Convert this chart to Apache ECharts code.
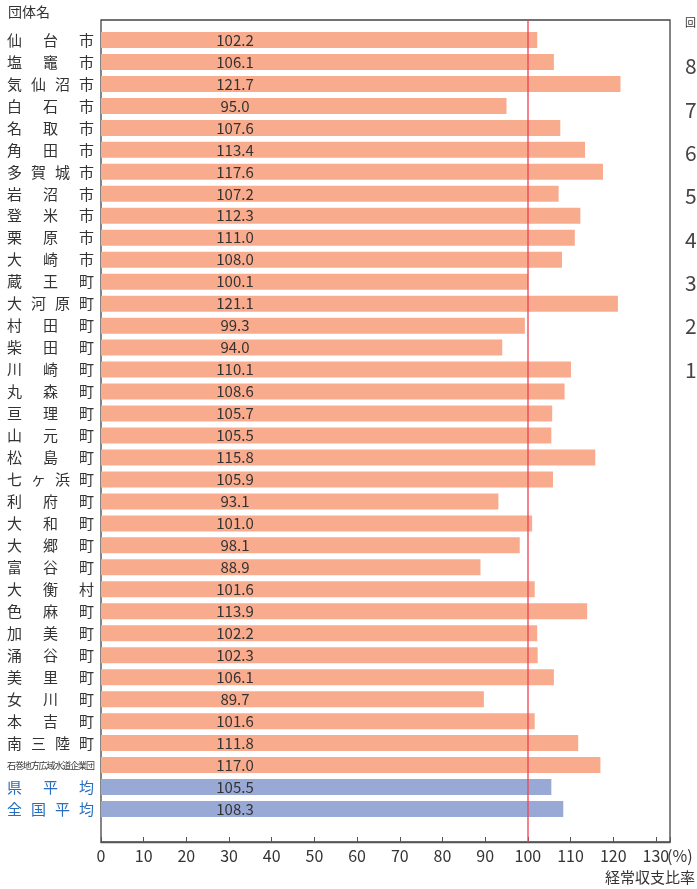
<!DOCTYPE html>
<html>
<head>
<meta charset="utf-8">
<script src="https://cdn.jsdelivr.net/npm/echarts@6/dist/echarts.min.js"></script>
<style>
html, body { margin: 0; padding: 0; background: #fff; }
#main { width: 697px; height: 889px; }
</style>
</head>
<body>
<div id="main"></div>
<script>
var names = ["仙台市", "塩竈市", "気仙沼市", "白石市", "名取市", "角田市", "多賀城市", "岩沼市", "登米市", "栗原市",
    "大崎市", "蔵王町", "大河原町", "村田町", "柴田町", "川崎町", "丸森町", "亘理町", "山元町", "松島町",
    "七ヶ浜町", "利府町", "大和町", "大郷町", "富谷町", "大衡村", "色麻町", "加美町", "涌谷町", "美里町",
    "女川町", "本吉町", "南三陸町", "石巻地方広域水道企業団", "県平均", "全国平均"];
var values = [102.2, 106.1, 121.7, 95.0, 107.6, 113.4, 117.6, 107.2, 112.3, 111.0,
    108.0, 100.1, 121.1, 99.3, 94.0, 110.1, 108.6, 105.7, 105.5, 115.8,
    105.9, 93.1, 101.0, 98.1, 88.9, 101.6, 113.9, 102.2, 102.3, 106.1,
    89.7, 101.6, 111.8, 117.0, 105.5, 108.3];
var averageCount = 2;   // last two rows are averages (blue)
var refLine = 100;
var sideLabels = ["8", "7", "6", "5", "4", "3", "2", "1"];

var FONT = "'Noto Sans CJK JP', 'Noto Sans', sans-serif";
var orange = "#f9ab8e";
var blue = "#99a9d6";

var myChart = echarts.init(document.getElementById("main"));

var barData = values.map(function (v, i) {
    var isAvg = i >= values.length - averageCount;
    return { value: v, itemStyle: { color: isAvg ? blue : orange } };
});
var catData = names.concat([""]);

// spread each name's characters across the label column
function nameFormatter(value, index) {
    if (!value) return "";
    var chars = value.split("");
    var isAvg = index >= names.length - averageCount;
    var key;
    if (chars.length <= 3) key = "s3";
    else if (chars.length == 4) key = "s4";
    else key = "sl";
    if (isAvg) key = "b" + key;
    return chars.map(function (c) { return "{" + key + "|" + c + "}"; }).join("");
}

var labelStyle = { fontFamily: FONT, fontSize: 15, color: "#333", align: "left" };
function rs(w, extra) {
    return Object.assign({}, labelStyle, { width: w }, extra || {});
}

var graphics = [
    { type: "text", left: 8, top: 5, style: { text: "団体名", font: "14px " + FONT, fill: "#333" } },
    { type: "text", right: 2, top: 870, style: { text: "経常収支比率", font: "15px " + FONT, fill: "#333" } },
    { type: "text", left: 667, top: 848, style: { text: "(%)", font: "16px " + FONT, fill: "#333" } },
    { type: "text", left: 685, top: 17, style: { text: "回", font: "11px " + FONT, fill: "#333" } }
];
for (var k = 0; k < sideLabels.length; k++) {
    graphics.push({
        type: "text", left: 685, top: 56 + k * 43.3,
        style: { text: sideLabels[k], font: "21px " + FONT, fill: "#444" }
    });
}

var option = {
    animation: false,
    backgroundColor: "#fff",
    graphic: graphics,
    grid: [
        { left: 101, top: 20, right: 27, bottom: 47, show: true, borderColor: "#444", borderWidth: 1.3, backgroundColor: "transparent" },
        { left: 101, top: 29, right: 27, bottom: 47 }
    ],
    xAxis: [
        {
            gridIndex: 0, type: "value", min: 0, max: 133.3, interval: 10,
            axisLine: { show: true, lineStyle: { color: "#555", width: 1.3 } },
            axisTick: { show: true, inside: true, length: 5, lineStyle: { color: "#555" } },
            splitLine: { show: false },
            axisLabel: {
                fontFamily: FONT, fontSize: 16, color: "#333", margin: 6,
                formatter: function (v) { return v > 130 ? "" : String(v); }
            }
        },
        { gridIndex: 1, type: "value", min: 0, max: 133.3, show: false }
    ],
    yAxis: [
        { gridIndex: 0, type: "value", min: 0, max: 1, show: false },
        {
            gridIndex: 1, type: "category", inverse: true, data: catData,
            axisLine: { show: false }, axisTick: { show: false },
            axisLabel: {
                interval: 0, align: "left", margin: 94,
                formatter: nameFormatter,
                rich: {
                    s3: rs(36), s4: rs(24), sl: rs(7.9, { fontSize: 9 }),
                    bs3: rs(36, { color: "#2a6fbd" }), bs4: rs(24, { color: "#2a6fbd" }), bsl: rs(7.9, { fontSize: 9, color: "#2a6fbd" })
                }
            }
        }
    ],
    series: [
        {
            type: "bar", xAxisIndex: 1, yAxisIndex: 1, barWidth: 16,
            data: barData,
            label: {
                show: true, position: [134, "50%"], align: "center", verticalAlign: "middle",
                fontFamily: FONT, fontSize: 15, color: "#333",
                formatter: function (p) { return p.value.toFixed(1); }
            }
        },
        {
            type: "line", xAxisIndex: 0, yAxisIndex: 0, data: [], z: 10,
            markLine: {
                silent: true, symbol: "none", label: { show: false },
                lineStyle: { color: "rgba(240,70,85,0.75)", width: 1.8, type: "solid" },
                data: [{ xAxis: refLine }]
            }
        }
    ]
};

myChart.setOption(option);
</script>
</body>
</html>
